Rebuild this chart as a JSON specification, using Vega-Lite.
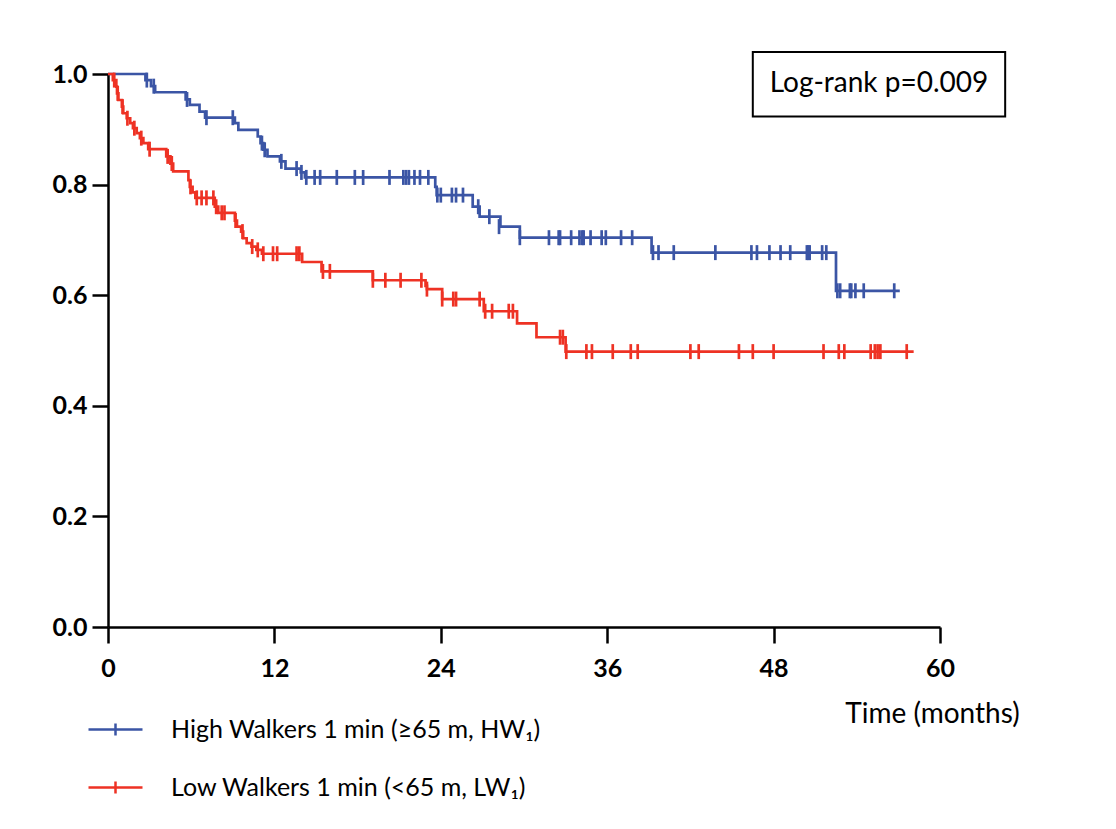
{
  "$schema": "https://vega.github.io/schema/vega-lite/v6.json",
  "width": 832,
  "height": 553,
  "autosize": {"type": "none"},
  "padding": {"left": 108, "top": 74, "right": 176, "bottom": 202},
  "background": "white",
  "datasets": {
    "steps": [
      {"g": "High Walkers 1 min (≥65 m, HW₁)", "t": 0, "s": 1.0},
      {"g": "High Walkers 1 min (≥65 m, HW₁)", "t": 2.7, "s": 0.989},
      {"g": "High Walkers 1 min (≥65 m, HW₁)", "t": 3.1, "s": 0.978},
      {"g": "High Walkers 1 min (≥65 m, HW₁)", "t": 3.4, "s": 0.967},
      {"g": "High Walkers 1 min (≥65 m, HW₁)", "t": 5.6, "s": 0.954},
      {"g": "High Walkers 1 min (≥65 m, HW₁)", "t": 5.9, "s": 0.944},
      {"g": "High Walkers 1 min (≥65 m, HW₁)", "t": 6.6, "s": 0.932},
      {"g": "High Walkers 1 min (≥65 m, HW₁)", "t": 7.0, "s": 0.921},
      {"g": "High Walkers 1 min (≥65 m, HW₁)", "t": 9.15, "s": 0.911},
      {"g": "High Walkers 1 min (≥65 m, HW₁)", "t": 9.4, "s": 0.899},
      {"g": "High Walkers 1 min (≥65 m, HW₁)", "t": 10.8, "s": 0.887},
      {"g": "High Walkers 1 min (≥65 m, HW₁)", "t": 11.0, "s": 0.875},
      {"g": "High Walkers 1 min (≥65 m, HW₁)", "t": 11.2, "s": 0.863},
      {"g": "High Walkers 1 min (≥65 m, HW₁)", "t": 11.5, "s": 0.851},
      {"g": "High Walkers 1 min (≥65 m, HW₁)", "t": 12.4, "s": 0.842},
      {"g": "High Walkers 1 min (≥65 m, HW₁)", "t": 12.8, "s": 0.829},
      {"g": "High Walkers 1 min (≥65 m, HW₁)", "t": 13.9, "s": 0.822},
      {"g": "High Walkers 1 min (≥65 m, HW₁)", "t": 14.2, "s": 0.813},
      {"g": "High Walkers 1 min (≥65 m, HW₁)", "t": 23.6, "s": 0.796},
      {"g": "High Walkers 1 min (≥65 m, HW₁)", "t": 23.7, "s": 0.781},
      {"g": "High Walkers 1 min (≥65 m, HW₁)", "t": 26.3, "s": 0.760},
      {"g": "High Walkers 1 min (≥65 m, HW₁)", "t": 26.8, "s": 0.742},
      {"g": "High Walkers 1 min (≥65 m, HW₁)", "t": 28.3, "s": 0.724},
      {"g": "High Walkers 1 min (≥65 m, HW₁)", "t": 29.7, "s": 0.704},
      {"g": "High Walkers 1 min (≥65 m, HW₁)", "t": 39.2, "s": 0.677},
      {"g": "High Walkers 1 min (≥65 m, HW₁)", "t": 52.5, "s": 0.608},
      {"g": "High Walkers 1 min (≥65 m, HW₁)", "t": 57.1, "s": 0.608},
      {"g": "Low Walkers 1 min (<65 m, LW₁)", "t": 0, "s": 1.0},
      {"g": "Low Walkers 1 min (<65 m, LW₁)", "t": 0.35, "s": 0.989},
      {"g": "Low Walkers 1 min (<65 m, LW₁)", "t": 0.6, "s": 0.977},
      {"g": "Low Walkers 1 min (<65 m, LW₁)", "t": 0.65, "s": 0.965},
      {"g": "Low Walkers 1 min (<65 m, LW₁)", "t": 0.75, "s": 0.953},
      {"g": "Low Walkers 1 min (<65 m, LW₁)", "t": 1.0, "s": 0.941},
      {"g": "Low Walkers 1 min (<65 m, LW₁)", "t": 1.1, "s": 0.929},
      {"g": "Low Walkers 1 min (<65 m, LW₁)", "t": 1.35, "s": 0.920},
      {"g": "Low Walkers 1 min (<65 m, LW₁)", "t": 1.6, "s": 0.911},
      {"g": "Low Walkers 1 min (<65 m, LW₁)", "t": 1.8, "s": 0.902},
      {"g": "Low Walkers 1 min (<65 m, LW₁)", "t": 2.07, "s": 0.893},
      {"g": "Low Walkers 1 min (<65 m, LW₁)", "t": 2.3, "s": 0.884},
      {"g": "Low Walkers 1 min (<65 m, LW₁)", "t": 2.55, "s": 0.875},
      {"g": "Low Walkers 1 min (<65 m, LW₁)", "t": 2.9, "s": 0.864},
      {"g": "Low Walkers 1 min (<65 m, LW₁)", "t": 4.2, "s": 0.851},
      {"g": "Low Walkers 1 min (<65 m, LW₁)", "t": 4.5, "s": 0.838},
      {"g": "Low Walkers 1 min (<65 m, LW₁)", "t": 4.7, "s": 0.824},
      {"g": "Low Walkers 1 min (<65 m, LW₁)", "t": 5.8, "s": 0.808},
      {"g": "Low Walkers 1 min (<65 m, LW₁)", "t": 5.9, "s": 0.796},
      {"g": "Low Walkers 1 min (<65 m, LW₁)", "t": 6.1, "s": 0.786},
      {"g": "Low Walkers 1 min (<65 m, LW₁)", "t": 6.3, "s": 0.776},
      {"g": "Low Walkers 1 min (<65 m, LW₁)", "t": 7.7, "s": 0.760},
      {"g": "Low Walkers 1 min (<65 m, LW₁)", "t": 7.95, "s": 0.749},
      {"g": "Low Walkers 1 min (<65 m, LW₁)", "t": 9.15, "s": 0.735},
      {"g": "Low Walkers 1 min (<65 m, LW₁)", "t": 9.3, "s": 0.724},
      {"g": "Low Walkers 1 min (<65 m, LW₁)", "t": 9.6, "s": 0.715},
      {"g": "Low Walkers 1 min (<65 m, LW₁)", "t": 9.75, "s": 0.703},
      {"g": "Low Walkers 1 min (<65 m, LW₁)", "t": 10.0, "s": 0.694},
      {"g": "Low Walkers 1 min (<65 m, LW₁)", "t": 10.35, "s": 0.688},
      {"g": "Low Walkers 1 min (<65 m, LW₁)", "t": 10.7, "s": 0.682},
      {"g": "Low Walkers 1 min (<65 m, LW₁)", "t": 11.1, "s": 0.675},
      {"g": "Low Walkers 1 min (<65 m, LW₁)", "t": 14.0, "s": 0.660},
      {"g": "Low Walkers 1 min (<65 m, LW₁)", "t": 15.4, "s": 0.643},
      {"g": "Low Walkers 1 min (<65 m, LW₁)", "t": 19.1, "s": 0.627},
      {"g": "Low Walkers 1 min (<65 m, LW₁)", "t": 22.9, "s": 0.617},
      {"g": "Low Walkers 1 min (<65 m, LW₁)", "t": 23.0, "s": 0.611},
      {"g": "Low Walkers 1 min (<65 m, LW₁)", "t": 24.1, "s": 0.593},
      {"g": "Low Walkers 1 min (<65 m, LW₁)", "t": 27.1, "s": 0.571},
      {"g": "Low Walkers 1 min (<65 m, LW₁)", "t": 29.5, "s": 0.549},
      {"g": "Low Walkers 1 min (<65 m, LW₁)", "t": 30.9, "s": 0.524},
      {"g": "Low Walkers 1 min (<65 m, LW₁)", "t": 33.0, "s": 0.498},
      {"g": "Low Walkers 1 min (<65 m, LW₁)", "t": 58.1, "s": 0.498}
    ],
    "censors": [
      {"g": "High Walkers 1 min (≥65 m, HW₁)", "t": 2.8, "s": 0.989},
      {"g": "High Walkers 1 min (≥65 m, HW₁)", "t": 3.3, "s": 0.978},
      {"g": "High Walkers 1 min (≥65 m, HW₁)", "t": 5.7, "s": 0.954},
      {"g": "High Walkers 1 min (≥65 m, HW₁)", "t": 7.1, "s": 0.921},
      {"g": "High Walkers 1 min (≥65 m, HW₁)", "t": 9.0, "s": 0.921},
      {"g": "High Walkers 1 min (≥65 m, HW₁)", "t": 11.1, "s": 0.875},
      {"g": "High Walkers 1 min (≥65 m, HW₁)", "t": 11.3, "s": 0.863},
      {"g": "High Walkers 1 min (≥65 m, HW₁)", "t": 12.5, "s": 0.842},
      {"g": "High Walkers 1 min (≥65 m, HW₁)", "t": 13.6, "s": 0.829},
      {"g": "High Walkers 1 min (≥65 m, HW₁)", "t": 13.95, "s": 0.822},
      {"g": "High Walkers 1 min (≥65 m, HW₁)", "t": 14.3, "s": 0.813},
      {"g": "High Walkers 1 min (≥65 m, HW₁)", "t": 14.9, "s": 0.813},
      {"g": "High Walkers 1 min (≥65 m, HW₁)", "t": 15.3, "s": 0.813},
      {"g": "High Walkers 1 min (≥65 m, HW₁)", "t": 16.5, "s": 0.813},
      {"g": "High Walkers 1 min (≥65 m, HW₁)", "t": 17.8, "s": 0.813},
      {"g": "High Walkers 1 min (≥65 m, HW₁)", "t": 18.4, "s": 0.813},
      {"g": "High Walkers 1 min (≥65 m, HW₁)", "t": 20.3, "s": 0.813},
      {"g": "High Walkers 1 min (≥65 m, HW₁)", "t": 21.3, "s": 0.813},
      {"g": "High Walkers 1 min (≥65 m, HW₁)", "t": 21.5, "s": 0.813},
      {"g": "High Walkers 1 min (≥65 m, HW₁)", "t": 21.7, "s": 0.813},
      {"g": "High Walkers 1 min (≥65 m, HW₁)", "t": 22.1, "s": 0.813},
      {"g": "High Walkers 1 min (≥65 m, HW₁)", "t": 22.5, "s": 0.813},
      {"g": "High Walkers 1 min (≥65 m, HW₁)", "t": 23.1, "s": 0.813},
      {"g": "High Walkers 1 min (≥65 m, HW₁)", "t": 23.75, "s": 0.781},
      {"g": "High Walkers 1 min (≥65 m, HW₁)", "t": 24.0, "s": 0.781},
      {"g": "High Walkers 1 min (≥65 m, HW₁)", "t": 24.8, "s": 0.781},
      {"g": "High Walkers 1 min (≥65 m, HW₁)", "t": 25.1, "s": 0.781},
      {"g": "High Walkers 1 min (≥65 m, HW₁)", "t": 25.6, "s": 0.781},
      {"g": "High Walkers 1 min (≥65 m, HW₁)", "t": 26.7, "s": 0.760},
      {"g": "High Walkers 1 min (≥65 m, HW₁)", "t": 27.5, "s": 0.742},
      {"g": "High Walkers 1 min (≥65 m, HW₁)", "t": 28.2, "s": 0.724},
      {"g": "High Walkers 1 min (≥65 m, HW₁)", "t": 29.7, "s": 0.704},
      {"g": "High Walkers 1 min (≥65 m, HW₁)", "t": 31.8, "s": 0.704},
      {"g": "High Walkers 1 min (≥65 m, HW₁)", "t": 32.5, "s": 0.704},
      {"g": "High Walkers 1 min (≥65 m, HW₁)", "t": 32.6, "s": 0.704},
      {"g": "High Walkers 1 min (≥65 m, HW₁)", "t": 33.4, "s": 0.704},
      {"g": "High Walkers 1 min (≥65 m, HW₁)", "t": 34.0, "s": 0.704},
      {"g": "High Walkers 1 min (≥65 m, HW₁)", "t": 34.2, "s": 0.704},
      {"g": "High Walkers 1 min (≥65 m, HW₁)", "t": 34.3, "s": 0.704},
      {"g": "High Walkers 1 min (≥65 m, HW₁)", "t": 34.8, "s": 0.704},
      {"g": "High Walkers 1 min (≥65 m, HW₁)", "t": 35.6, "s": 0.704},
      {"g": "High Walkers 1 min (≥65 m, HW₁)", "t": 35.9, "s": 0.704},
      {"g": "High Walkers 1 min (≥65 m, HW₁)", "t": 37.0, "s": 0.704},
      {"g": "High Walkers 1 min (≥65 m, HW₁)", "t": 37.8, "s": 0.704},
      {"g": "High Walkers 1 min (≥65 m, HW₁)", "t": 39.3, "s": 0.677},
      {"g": "High Walkers 1 min (≥65 m, HW₁)", "t": 39.7, "s": 0.677},
      {"g": "High Walkers 1 min (≥65 m, HW₁)", "t": 40.8, "s": 0.677},
      {"g": "High Walkers 1 min (≥65 m, HW₁)", "t": 43.8, "s": 0.677},
      {"g": "High Walkers 1 min (≥65 m, HW₁)", "t": 46.4, "s": 0.677},
      {"g": "High Walkers 1 min (≥65 m, HW₁)", "t": 46.8, "s": 0.677},
      {"g": "High Walkers 1 min (≥65 m, HW₁)", "t": 47.7, "s": 0.677},
      {"g": "High Walkers 1 min (≥65 m, HW₁)", "t": 48.5, "s": 0.677},
      {"g": "High Walkers 1 min (≥65 m, HW₁)", "t": 49.2, "s": 0.677},
      {"g": "High Walkers 1 min (≥65 m, HW₁)", "t": 50.4, "s": 0.677},
      {"g": "High Walkers 1 min (≥65 m, HW₁)", "t": 50.5, "s": 0.677},
      {"g": "High Walkers 1 min (≥65 m, HW₁)", "t": 50.6, "s": 0.677},
      {"g": "High Walkers 1 min (≥65 m, HW₁)", "t": 51.5, "s": 0.677},
      {"g": "High Walkers 1 min (≥65 m, HW₁)", "t": 51.8, "s": 0.677},
      {"g": "High Walkers 1 min (≥65 m, HW₁)", "t": 52.6, "s": 0.608},
      {"g": "High Walkers 1 min (≥65 m, HW₁)", "t": 52.8, "s": 0.608},
      {"g": "High Walkers 1 min (≥65 m, HW₁)", "t": 53.5, "s": 0.608},
      {"g": "High Walkers 1 min (≥65 m, HW₁)", "t": 53.6, "s": 0.608},
      {"g": "High Walkers 1 min (≥65 m, HW₁)", "t": 53.9, "s": 0.608},
      {"g": "High Walkers 1 min (≥65 m, HW₁)", "t": 54.5, "s": 0.608},
      {"g": "High Walkers 1 min (≥65 m, HW₁)", "t": 56.7, "s": 0.608},
      {"g": "Low Walkers 1 min (<65 m, LW₁)", "t": 0.45, "s": 0.989},
      {"g": "Low Walkers 1 min (<65 m, LW₁)", "t": 0.7, "s": 0.965},
      {"g": "Low Walkers 1 min (<65 m, LW₁)", "t": 1.05, "s": 0.941},
      {"g": "Low Walkers 1 min (<65 m, LW₁)", "t": 1.4, "s": 0.920},
      {"g": "Low Walkers 1 min (<65 m, LW₁)", "t": 1.9, "s": 0.902},
      {"g": "Low Walkers 1 min (<65 m, LW₁)", "t": 2.4, "s": 0.884},
      {"g": "Low Walkers 1 min (<65 m, LW₁)", "t": 3.0, "s": 0.864},
      {"g": "Low Walkers 1 min (<65 m, LW₁)", "t": 4.3, "s": 0.851},
      {"g": "Low Walkers 1 min (<65 m, LW₁)", "t": 4.6, "s": 0.838},
      {"g": "Low Walkers 1 min (<65 m, LW₁)", "t": 5.95, "s": 0.796},
      {"g": "Low Walkers 1 min (<65 m, LW₁)", "t": 6.4, "s": 0.776},
      {"g": "Low Walkers 1 min (<65 m, LW₁)", "t": 6.75, "s": 0.776},
      {"g": "Low Walkers 1 min (<65 m, LW₁)", "t": 7.1, "s": 0.776},
      {"g": "Low Walkers 1 min (<65 m, LW₁)", "t": 7.6, "s": 0.776},
      {"g": "Low Walkers 1 min (<65 m, LW₁)", "t": 7.8, "s": 0.760},
      {"g": "Low Walkers 1 min (<65 m, LW₁)", "t": 8.2, "s": 0.749},
      {"g": "Low Walkers 1 min (<65 m, LW₁)", "t": 8.4, "s": 0.749},
      {"g": "Low Walkers 1 min (<65 m, LW₁)", "t": 9.2, "s": 0.735},
      {"g": "Low Walkers 1 min (<65 m, LW₁)", "t": 9.7, "s": 0.715},
      {"g": "Low Walkers 1 min (<65 m, LW₁)", "t": 10.4, "s": 0.688},
      {"g": "Low Walkers 1 min (<65 m, LW₁)", "t": 10.8, "s": 0.682},
      {"g": "Low Walkers 1 min (<65 m, LW₁)", "t": 11.2, "s": 0.675},
      {"g": "Low Walkers 1 min (<65 m, LW₁)", "t": 11.9, "s": 0.675},
      {"g": "Low Walkers 1 min (<65 m, LW₁)", "t": 12.2, "s": 0.675},
      {"g": "Low Walkers 1 min (<65 m, LW₁)", "t": 13.6, "s": 0.675},
      {"g": "Low Walkers 1 min (<65 m, LW₁)", "t": 13.8, "s": 0.675},
      {"g": "Low Walkers 1 min (<65 m, LW₁)", "t": 15.5, "s": 0.643},
      {"g": "Low Walkers 1 min (<65 m, LW₁)", "t": 16.0, "s": 0.643},
      {"g": "Low Walkers 1 min (<65 m, LW₁)", "t": 19.1, "s": 0.627},
      {"g": "Low Walkers 1 min (<65 m, LW₁)", "t": 20.0, "s": 0.627},
      {"g": "Low Walkers 1 min (<65 m, LW₁)", "t": 21.1, "s": 0.627},
      {"g": "Low Walkers 1 min (<65 m, LW₁)", "t": 22.6, "s": 0.627},
      {"g": "Low Walkers 1 min (<65 m, LW₁)", "t": 23.0, "s": 0.611},
      {"g": "Low Walkers 1 min (<65 m, LW₁)", "t": 24.1, "s": 0.593},
      {"g": "Low Walkers 1 min (<65 m, LW₁)", "t": 24.9, "s": 0.593},
      {"g": "Low Walkers 1 min (<65 m, LW₁)", "t": 25.1, "s": 0.593},
      {"g": "Low Walkers 1 min (<65 m, LW₁)", "t": 26.8, "s": 0.593},
      {"g": "Low Walkers 1 min (<65 m, LW₁)", "t": 27.2, "s": 0.571},
      {"g": "Low Walkers 1 min (<65 m, LW₁)", "t": 27.7, "s": 0.571},
      {"g": "Low Walkers 1 min (<65 m, LW₁)", "t": 28.9, "s": 0.571},
      {"g": "Low Walkers 1 min (<65 m, LW₁)", "t": 29.2, "s": 0.571},
      {"g": "Low Walkers 1 min (<65 m, LW₁)", "t": 32.6, "s": 0.524},
      {"g": "Low Walkers 1 min (<65 m, LW₁)", "t": 32.8, "s": 0.524},
      {"g": "Low Walkers 1 min (<65 m, LW₁)", "t": 33.05, "s": 0.498},
      {"g": "Low Walkers 1 min (<65 m, LW₁)", "t": 34.5, "s": 0.498},
      {"g": "Low Walkers 1 min (<65 m, LW₁)", "t": 34.9, "s": 0.498},
      {"g": "Low Walkers 1 min (<65 m, LW₁)", "t": 36.4, "s": 0.498},
      {"g": "Low Walkers 1 min (<65 m, LW₁)", "t": 37.7, "s": 0.498},
      {"g": "Low Walkers 1 min (<65 m, LW₁)", "t": 38.2, "s": 0.498},
      {"g": "Low Walkers 1 min (<65 m, LW₁)", "t": 42.0, "s": 0.498},
      {"g": "Low Walkers 1 min (<65 m, LW₁)", "t": 42.6, "s": 0.498},
      {"g": "Low Walkers 1 min (<65 m, LW₁)", "t": 45.5, "s": 0.498},
      {"g": "Low Walkers 1 min (<65 m, LW₁)", "t": 46.5, "s": 0.498},
      {"g": "Low Walkers 1 min (<65 m, LW₁)", "t": 48.0, "s": 0.498},
      {"g": "Low Walkers 1 min (<65 m, LW₁)", "t": 51.6, "s": 0.498},
      {"g": "Low Walkers 1 min (<65 m, LW₁)", "t": 52.7, "s": 0.498},
      {"g": "Low Walkers 1 min (<65 m, LW₁)", "t": 53.1, "s": 0.498},
      {"g": "Low Walkers 1 min (<65 m, LW₁)", "t": 55.0, "s": 0.498},
      {"g": "Low Walkers 1 min (<65 m, LW₁)", "t": 55.3, "s": 0.498},
      {"g": "Low Walkers 1 min (<65 m, LW₁)", "t": 55.5, "s": 0.498},
      {"g": "Low Walkers 1 min (<65 m, LW₁)", "t": 55.7, "s": 0.498},
      {"g": "Low Walkers 1 min (<65 m, LW₁)", "t": 57.6, "s": 0.498}
    ],
    "note": [
      {"label": "Log-rank p=0.009", "x": 46.5, "x2": 64.7, "y": 1.040, "y2": 0.923, "tx": 55.6, "ty": 0.982}
    ]
  },
  "layer": [
    {
      "data": {"name": "steps"},
      "mark": {"type": "line", "interpolate": "step-after", "strokeWidth": 2.7, "clip": false},
      "encoding": {
        "x": {"field": "t", "type": "quantitative", "scale": {"domain": [0, 60], "nice": false, "zero": false},
          "axis": {"values": [0, 12, 24, 36, 48, 60], "title": "Time (months)", "labelPadding": 13, "labelFlush": false,
            "titleX": 824, "titleY": 95, "titleBaseline": "alphabetic", "titleAlign": "center", "titleAnchor": null,
            "titleFont": "Lato", "titleFontSize": 28, "titleFontWeight": "normal", "titleColor": "black"}},
        "y": {"field": "s", "type": "quantitative", "scale": {"domain": [0, 1], "nice": false},
          "axis": {"values": [0, 0.2, 0.4, 0.6, 0.8, 1.0], "format": ".1f", "title": null, "labelPadding": 5, "labelFlush": false}},
        "color": {"field": "g", "type": "nominal",
          "scale": {"domain": ["High Walkers 1 min (≥65 m, HW₁)", "Low Walkers 1 min (<65 m, LW₁)"], "range": ["#3B55A5", "#EE3224"]},
          "legend": {"title": null, "orient": "none", "legendX": -21, "legendY": 627,
            "symbolType": "M-1,0H1M0,-0.22V0.22", "symbolSize": 2916, "symbolStrokeWidth": 2.5,
            "symbolFillColor": "transparent", "labelOffset": 27, "rowPadding": 16, "padding": 0,
            "labelFont": "Lato", "labelFontSize": 25, "labelColor": "black", "labelLimit": 0}}
      }
    },
    {
      "data": {"name": "censors"},
      "mark": {"type": "tick", "orient": "vertical", "size": 15, "thickness": 2.7, "opacity": 1, "clip": false},
      "encoding": {
        "x": {"field": "t", "type": "quantitative"},
        "y": {"field": "s", "type": "quantitative"},
        "color": {"field": "g", "type": "nominal"}
      }
    },
    {
      "data": {"name": "note"},
      "mark": {"type": "rect", "fill": "white", "stroke": "black", "strokeWidth": 2, "clip": false},
      "encoding": {
        "x": {"field": "x", "type": "quantitative"},
        "x2": {"field": "x2"},
        "y": {"field": "y", "type": "quantitative"},
        "y2": {"field": "y2"}
      }
    },
    {
      "data": {"name": "note"},
      "mark": {"type": "text", "font": "Lato", "fontSize": 28, "color": "black", "align": "center", "baseline": "middle", "clip": false},
      "encoding": {
        "x": {"field": "tx", "type": "quantitative"},
        "y": {"field": "ty", "type": "quantitative"},
        "text": {"field": "label"}
      }
    }
  ],
  "config": {
    "view": {"stroke": null},
    "axis": {
      "grid": false,
      "domainColor": "black",
      "domainWidth": 2.5,
      "tickColor": "black",
      "tickWidth": 2.5,
      "tickSize": 16,
      "labelFont": "Lato",
      "labelFontWeight": "bold",
      "labelFontSize": 25,
      "labelColor": "black"
    }
  }
}
